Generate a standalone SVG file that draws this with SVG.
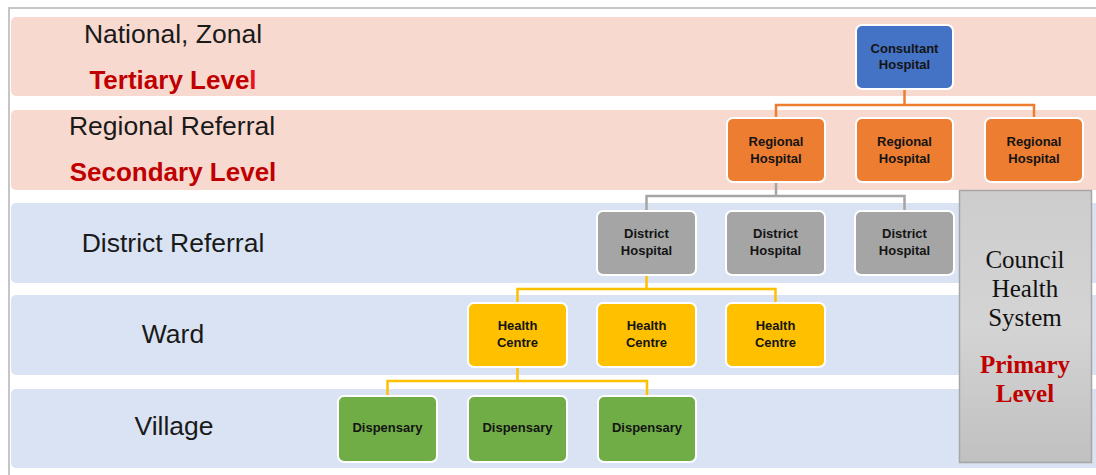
<svg xmlns="http://www.w3.org/2000/svg" width="1096" height="475" viewBox="0 0 1096 475">
<style>
.band-p{fill:#F8D9CF}
.band-b{fill:#DAE3F3}
.lvl{font-family:"Liberation Sans",Arial,sans-serif;font-size:26.5px;fill:#1a1a1a;text-anchor:middle}
.lvlr{font-family:"Liberation Sans",Arial,sans-serif;font-size:26px;font-weight:bold;fill:#C00000;text-anchor:middle}
.box{stroke:#ffffff;stroke-width:2}
.nt{font-family:"Liberation Sans",Arial,sans-serif;font-size:13px;font-weight:bold;fill:#141414;text-anchor:middle}
.conn{fill:none;stroke-width:2.5}
.ser{font-family:"Liberation Serif","Times New Roman",serif;font-size:25px;text-anchor:middle;fill:#111}
.serr{font-family:"Liberation Serif","Times New Roman",serif;font-size:25px;font-weight:bold;text-anchor:middle;fill:#C00000}
</style>
<defs>
<linearGradient id="gcouncil" x1="0" y1="0" x2="0" y2="1">
<stop offset="0" stop-color="#CDCDCD"/>
<stop offset="0.5" stop-color="#D4D4D4"/>
<stop offset="1" stop-color="#C0C0C0"/>
</linearGradient>
</defs>
<rect x="0" y="0" width="1096" height="475" fill="#ffffff"/>
<rect x="9" y="8" width="1100" height="480" fill="#ffffff" stroke="#C6C6C6" stroke-width="2"/>
<g id="bands">
<rect class="band-p" x="11" y="17" width="1100" height="79" rx="5"/>
<rect class="band-p" x="11" y="110" width="1100" height="80" rx="5"/>
<rect class="band-b" x="11" y="203" width="1100" height="80" rx="5"/>
<rect class="band-b" x="11" y="295" width="1100" height="80" rx="5"/>
<rect class="band-b" x="11" y="389" width="1100" height="79" rx="5"/>
</g>
<g id="level-labels">
<text class="lvl" x="173" y="43">National, Zonal</text>
<text class="lvlr" x="173" y="89">Tertiary Leve<tspan fill="#E8141C">l</tspan></text>
<text class="lvl" x="172" y="135">Regional Referral</text>
<text class="lvlr" x="173" y="181">Secondary Level</text>
<text class="lvl" x="173" y="252">District Referral</text>
<text class="lvl" x="173" y="343">Ward</text>
<text class="lvl" x="174" y="435">Village</text>
</g>
<g id="connectors">
<path class="conn" stroke="#ED7D31" d="M904.5,89 V105 M776,118 V105 H1034 V118"/>
<path class="conn" stroke="#A5A5A5" d="M776,182 V196 M646.5,211 V196 H904.5 V211"/>
<path class="conn" stroke="#FFC000" d="M646.5,275 V289 M517.5,303 V289 H775.5 V303"/>
<path class="conn" stroke="#FFC000" d="M517.5,367 V381 M387.5,396 V381 H647 V396"/>
</g>
<g id="consultant-hospital">
<rect class="box" x="856" y="25" width="97" height="64" rx="6" fill="#4472C4"/>
<text class="nt" x="904.5" y="53">Consultant</text>
<text class="nt" x="904.5" y="69">Hospital</text>
</g>
<g id="regional-hospital-1">
<rect class="box" x="727" y="118" width="98" height="64" rx="6" fill="#ED7D31"/>
<text class="nt" x="776" y="146">Regional</text>
<text class="nt" x="776" y="163">Hospital</text>
</g>
<g id="regional-hospital-2">
<rect class="box" x="856" y="118" width="97" height="64" rx="6" fill="#ED7D31"/>
<text class="nt" x="904.5" y="146">Regional</text>
<text class="nt" x="904.5" y="163">Hospital</text>
</g>
<g id="regional-hospital-3">
<rect class="box" x="985" y="118" width="98" height="64" rx="6" fill="#ED7D31"/>
<text class="nt" x="1034" y="146">Regional</text>
<text class="nt" x="1034" y="163">Hospital</text>
</g>
<g id="district-hospital-1">
<rect class="box" x="597" y="211" width="99" height="64" rx="6" fill="#A5A5A5"/>
<text class="nt" x="646.5" y="238">District</text>
<text class="nt" x="646.5" y="255">Hospital</text>
</g>
<g id="district-hospital-2">
<rect class="box" x="726" y="211" width="99" height="64" rx="6" fill="#A5A5A5"/>
<text class="nt" x="775.5" y="238">District</text>
<text class="nt" x="775.5" y="255">Hospital</text>
</g>
<g id="district-hospital-3">
<rect class="box" x="855" y="211" width="99" height="64" rx="6" fill="#A5A5A5"/>
<text class="nt" x="904.5" y="238">District</text>
<text class="nt" x="904.5" y="255">Hospital</text>
</g>
<g id="health-centre-1">
<rect class="box" x="468" y="303" width="99" height="64" rx="6" fill="#FFC000"/>
<text class="nt" x="517.5" y="330">Health</text>
<text class="nt" x="517.5" y="347">Centre</text>
</g>
<g id="health-centre-2">
<rect class="box" x="597" y="303" width="99" height="64" rx="6" fill="#FFC000"/>
<text class="nt" x="646.5" y="330">Health</text>
<text class="nt" x="646.5" y="347">Centre</text>
</g>
<g id="health-centre-3">
<rect class="box" x="726" y="303" width="99" height="64" rx="6" fill="#FFC000"/>
<text class="nt" x="775.5" y="330">Health</text>
<text class="nt" x="775.5" y="347">Centre</text>
</g>
<g id="dispensary-1">
<rect class="box" x="338" y="396" width="99" height="66" rx="6" fill="#70AD47"/>
<text class="nt" x="387.5" y="432">Dispensary</text>
</g>
<g id="dispensary-2">
<rect class="box" x="468" y="396" width="99" height="66" rx="6" fill="#70AD47"/>
<text class="nt" x="517.5" y="432">Dispensary</text>
</g>
<g id="dispensary-3">
<rect class="box" x="598" y="396" width="98" height="66" rx="6" fill="#70AD47"/>
<text class="nt" x="647" y="432">Dispensary</text>
</g>
<g id="council-health-system">
<rect x="959.5" y="190.5" width="132" height="272" fill="url(#gcouncil)" stroke="#A6A6A6" stroke-width="1.5"/>
<text class="ser" x="1025" y="268">Council</text>
<text class="ser" x="1025" y="297">Health</text>
<text class="ser" x="1025" y="326">System</text>
<text class="serr" x="1025" y="373">Primary</text>
<text class="serr" x="1025" y="402">Level</text>
</g>
</svg>
